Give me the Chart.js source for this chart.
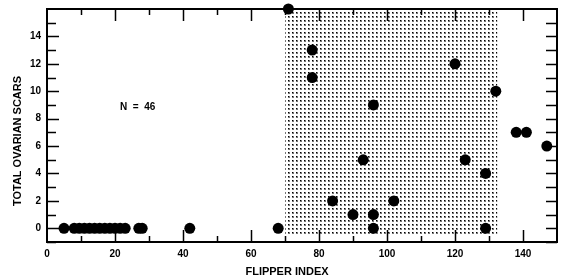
<!DOCTYPE html>
<html>
<head>
<meta charset="utf-8">
<script src="https://cdn.jsdelivr.net/npm/chart.js@4.4.1/dist/chart.umd.min.js"></script>
<style>
  html, body { margin: 0; padding: 0; background: #fff; }
  canvas { display: block; }
</style>
</head>
<body>
<canvas id="chart" width="564" height="280"></canvas>
<script>
// flipper index vs total ovarian scars
const flipperIndex = [5, 8, 9.5, 11, 12.5, 14, 15.5, 17, 18.5, 20, 21.5, 23, 27, 28, 42, 68,
    71, 78, 78, 84, 90, 93, 96, 96, 96, 102, 120, 123, 129, 129, 132, 138, 141, 147];
const ovarianScars = [0, 0, 0, 0, 0, 0, 0, 0, 0, 0, 0, 0, 0, 0, 0, 0,
    16, 13, 11, 2, 1, 5, 9, 1, 0, 2, 12, 5, 4, 0, 10, 7, 7, 6];

const shadeRange = [70, 132.5];
const xTicks = [0, 20, 40, 60, 80, 100, 120, 140];
const yTicks = [0, 2, 4, 6, 8, 10, 12, 14];
const xLimits = [0, 150];
const yLimits = [-1, 16];
const sampleLabel = 'N  =  46';
const xTitle = 'FLIPPER INDEX';
const yTitle = 'TOTAL OVARIAN SCARS';

const FAMILY = '"Liberation Sans", Arial, sans-serif';

function dotPattern() {
    const c = document.createElement('canvas');
    c.width = 4; c.height = 4;
    const g = c.getContext('2d');
    g.fillStyle = '#fff';
    g.fillRect(0, 0, 4, 4);
    g.fillStyle = '#777';
    g.fillRect(0, 0, 2, 2);
    g.fillStyle = '#000';
    g.fillRect(0, 0, 1, 1);
    return document.getElementById('chart').getContext('2d').createPattern(c, 'repeat');
}

// frame, inward ticks and free text
const decor = {
    id: 'decor',
    afterDraw(chart) {
        const ctx = chart.ctx;
        const a = chart.chartArea;
        const xs = chart.scales.x, ys = chart.scales.y;
        ctx.save();
        ctx.strokeStyle = '#000';
        ctx.lineWidth = 2;
        ctx.strokeRect(a.left, a.top, a.right - a.left, a.bottom - a.top);

        ctx.beginPath();
        for (let v = yLimits[0]; v < yLimits[1]; v++) {
            const y = Math.round(ys.getPixelForValue(v)) + 0.5;
            const len = v % 2 === 0 ? 12 : 9;
            ctx.moveTo(a.left, y); ctx.lineTo(a.left + len, y);
            ctx.moveTo(a.right, y); ctx.lineTo(a.right - 11, y);
        }
        for (let v = 10; v < xLimits[1]; v += 10) {
            const x = Math.round(xs.getPixelForValue(v)) + 0.5;
            const len = v % 20 === 0 ? 12 : 6;
            ctx.moveTo(x, a.top); ctx.lineTo(x, a.top + len);
            ctx.moveTo(x, a.bottom); ctx.lineTo(x, a.bottom - len);
        }
        ctx.lineWidth = 1.5;
        ctx.stroke();

        ctx.fillStyle = '#000';
        ctx.font = 'bold 10px ' + FAMILY;
        ctx.textAlign = 'left';
        ctx.textBaseline = 'middle';
        ctx.fillText(sampleLabel, 120, 107);

        ctx.font = 'bold 11px ' + FAMILY;
        ctx.textAlign = 'center';
        ctx.fillText(xTitle, 287, 272);

        ctx.translate(18, 141);
        ctx.rotate(-Math.PI / 2);
        ctx.fillText(yTitle, 0, 0);
        ctx.restore();
    }
};

new Chart(document.getElementById('chart'), {
    data: {
        datasets: [{
            type: 'line',
            data: shadeRange.map(x => ({ x: x, y: yLimits[1] })),
            borderWidth: 0,
            pointRadius: 0,
            backgroundColor: dotPattern(),
            fill: { value: -0.5 },
            order: 2
        }, {
            type: 'scatter',
            data: flipperIndex.map((x, i) => ({ x: x, y: ovarianScars[i] })),
            pointRadius: 5.5,
            backgroundColor: '#000',
            borderWidth: 0,
            clip: false,
            order: 1
        }]
    },
    options: {
        responsive: false,
        animation: false,
        layout: { padding: { left: 0, right: 7, top: 9, bottom: 0 } },
        plugins: { legend: { display: false }, tooltip: { enabled: false } },
        scales: {
            x: {
                type: 'linear',
                min: xLimits[0], max: xLimits[1],
                afterFit: s => { s.height = 38; s.paddingLeft = 0; s.paddingRight = 0; },
                afterBuildTicks: s => { s.ticks = xTicks.map(v => ({ value: v })); },
                grid: { display: false, drawTicks: false },
                border: { display: false },
                ticks: { color: '#000', font: { size: 10, weight: 'bold', family: FAMILY }, padding: 6, maxRotation: 0 }
            },
            y: {
                type: 'linear',
                min: yLimits[0], max: yLimits[1],
                afterFit: s => { s.width = 47; s.paddingTop = 0; s.paddingBottom = 0; },
                afterBuildTicks: s => { s.ticks = yTicks.map(v => ({ value: v })); },
                grid: { display: false, drawTicks: false },
                border: { display: false },
                ticks: { color: '#000', font: { size: 10, weight: 'bold', family: FAMILY }, padding: 6 }
            }
        }
    },
    plugins: [decor]
});
</script>
</body>
</html>
